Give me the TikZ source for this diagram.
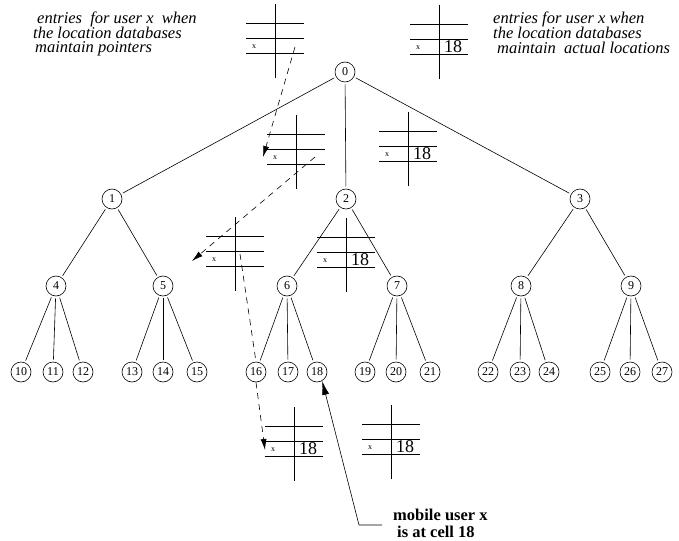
\documentclass[tikz,border=0pt]{standalone}
\usepackage{fontspec}
\setmainfont{Liberation Serif}
\usetikzlibrary{arrows.meta}
\newcommand\dbtab[4]{% name, left, top, entry
  \begin{scope}[shift={(#2,#3)}]
    \draw[tabline] (29,0) -- (29,74);
    \draw[tabline] (0,19) -- (58,19);
    \draw[tabline] (0,34) -- (58,34);
    \draw[tabline] (0,49) -- (58,49);
    \node[xlbl] (#1-x) at (8,43) {x};
    \node[biglbl] (#1-v) at (43,42) {#4};
    \coordinate (#1-c) at (29,37);
  \end{scope}}
\begin{document}
\begin{tikzpicture}[x=1pt,y=-1pt,
  vert/.style={circle,draw,line width=0.6pt,minimum size=20pt,inner sep=0pt,
    font=\fontsize{12}{12}\selectfont},
  edge/.style={line width=0.6pt,shorten <=2pt,shorten >=2pt},
  tabline/.style={line width=0.7pt},
  xlbl/.style={inner sep=0pt,font=\fontsize{8}{8}\selectfont},
  biglbl/.style={inner sep=0pt,font=\fontsize{18}{18}\selectfont},
  ptr/.style={line width=0.6pt,dash pattern=on 6pt off 5pt},
  ptrarrow/.style={ptr,-{Latex[length=11pt,width=6pt]}},
  itext/.style={anchor=base west,inner sep=0pt,font=\fontsize{16.5}{15}\selectfont\itshape},
  btext/.style={anchor=base west,inner sep=0pt,font=\fontsize{16.5}{15}\selectfont\bfseries}]
\useasboundingbox (0,0) rectangle (679,540);

% texts
\node[itext] (l1) at (37,24) {entries\ \ for user x\ \ when};
\node[itext] (l2) at (33,39) {the location databases};
\node[itext] (l3) at (35,53) {maintain pointers};
\node[itext] (r1) at (493,24) {entries for user x when};
\node[itext] (r2) at (493,39) {the location databases};
\node[itext] (r3) at (497,54) {maintain\ \ actual locations};

% tree
\node[vert] (n0) at (345,72) {0};
\node[vert] (n1) at (112,199) {1};
\node[vert] (n2) at (346,199) {2};
\node[vert] (n3) at (580,199) {3};
\node[vert] (n4) at (56,286) {4};
\node[vert] (n5) at (163,286) {5};
\node[vert] (n6) at (287,286) {6};
\node[vert] (n7) at (397,286) {7};
\node[vert] (n8) at (521,286) {8};
\node[vert] (n9) at (631,286) {9};
\foreach \i/\x in {10/21,11/53,12/83,13/132,14/163,15/197,16/256,17/288,18/317,
                   19/365,20/396,21/430,22/488,23/520,24/549,25/600,26/630,27/662}
  \node[vert] (n\i) at (\x,372) {\i};

\foreach \a/\b in {0/1,0/2,0/3,1/4,1/5,2/6,2/7,3/8,3/9,
                   4/10,4/11,4/12,5/13,5/14,5/15,6/16,6/17,6/18,
                   7/19,7/20,7/21,8/22,8/23,8/24,9/25,9/26,9/27}
  \draw[edge] (n\a) -- (n\b);

% location database entries
\dbtab{A}{246}{4}{}
\dbtab{B}{410}{5}{18}
\dbtab{C}{267}{115}{}
\dbtab{D}{379}{112}{18}
\dbtab{E}{206}{217}{}
\dbtab{F}{317}{218}{18}
\dbtab{G}{265}{407}{18}
\dbtab{H}{362}{405}{18}

% pointer chain
\coordinate (Aout) at (295,47);
\coordinate (Cin) at (263,157);
\coordinate (Cout) at (315,157);
\coordinate (Ein) at (192,261);
\coordinate (Eout) at (240,254);
\coordinate (Gin) at (265,450);
\draw[ptrarrow] (Aout) -- (Cin);
\draw[ptrarrow] (Cout) -- (Ein);
\draw[ptr] (Eout) -- (n16.north);
\draw[ptrarrow] (n16.south) -- (Gin);

% mobile user
\node[btext] (m1) at (393,520) {mobile user x};
\node[btext] (m2) at (397,537) {is at cell 18};
\coordinate (mA) at (382,525);
\coordinate (mB) at (359,525);
\draw[line width=0.6pt,-{Latex[length=14pt,width=7pt]}] (mA) -- (mB) -- (n18.-60);
\end{tikzpicture}
\end{document}
